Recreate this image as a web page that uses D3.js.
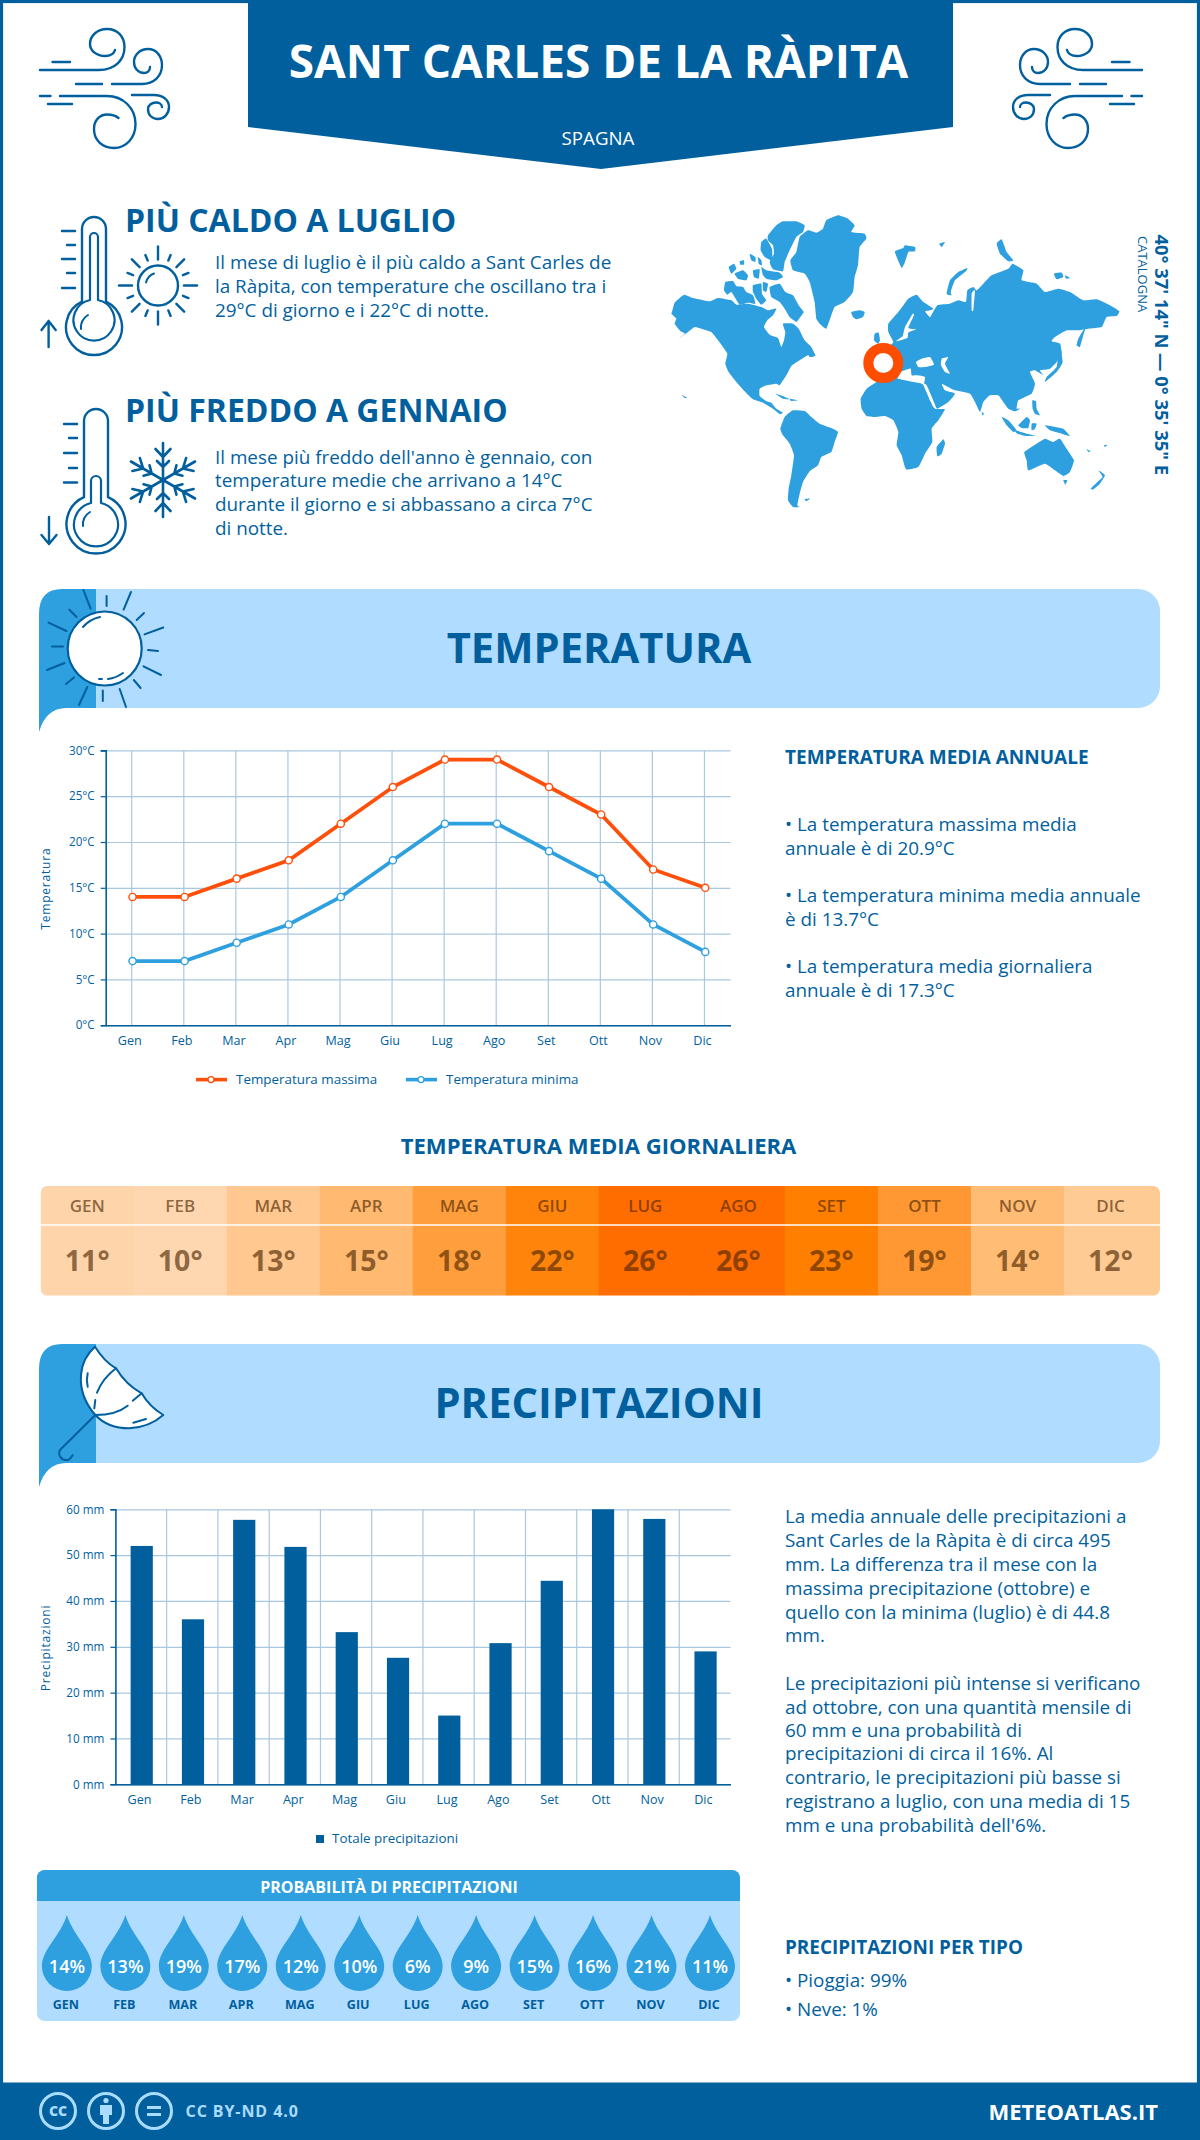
<!DOCTYPE html>
<html>
<head>
<meta charset="utf-8">
<script src="https://cdn.jsdelivr.net/npm/d3@7"></script>
<style>
  html, body { margin: 0; padding: 0; background: #fff; }
  svg { display: block; }
  text { font-family: 'Open Sans', sans-serif; }
</style>
</head>
<body>
<div id="chart"></div>
<script>
var months = ['Gen', 'Feb', 'Mar', 'Apr', 'Mag', 'Giu', 'Lug', 'Ago', 'Set', 'Ott', 'Nov', 'Dic'];
var tempMax = [14, 14, 16, 18, 22, 26, 29, 29, 26, 23, 17, 15];
var tempMin = [7, 7, 9, 11, 14, 18, 22, 22, 19, 16, 11, 8];
var tempMean = [11, 10, 13, 15, 18, 22, 26, 26, 23, 19, 14, 12];
var tempColors = ['#fed5ab', '#fed7b0', '#fec890', '#ffb970', '#ff9e3d', '#ff840c', '#ff6d00', '#ff6d00', '#ff7f00', '#ff9733', '#ffbc75', '#ffcb94'];
var rain = [52, 36, 57.7, 51.8, 33.2, 27.6, 15, 30.8, 44.4, 60, 57.9, 29];
var rainChance = [14, 13, 19, 17, 12, 10, 6, 9, 15, 16, 21, 11];
var tempTicks = [0, 5, 10, 15, 20, 25, 30];
var rainTicks = [0, 10, 20, 30, 40, 50, 60];

var BLUE = '#025f9e', MID = '#2e9fdf', LIGHT = '#b0dcff', ORANGE = '#fe4f0b', GRID = '#a9c8e0';

// land outlines traced by hand, in pixels of a 3x crop of each half of the map
var landWest = [
  [[12,300],[20,272],[48,248],[75,258],[125,268],[150,258],[190,265],[205,278],[240,275],[280,285],[300,295],[325,290],[315,310],[298,325],[288,345],[305,368],[330,378],[340,405],[348,385],[352,360],[345,335],[375,335],[392,350],[410,385],[430,405],[442,432],[420,430],[395,445],[370,462],[358,485],[345,505],[335,520],[325,515],[295,520],[275,530],[275,552],[295,568],[310,572],[325,590],[345,602],[335,606],[315,590],[285,572],[255,562],[232,540],[205,510],[182,480],[172,455],[178,425],[158,395],[130,360],[100,350],[80,345],[60,360],[22,388],[50,365],[38,358],[20,335],[25,320],[10,305]],
  [[305,225],[335,215],[352,240],[375,250],[392,280],[407,300],[395,318],[385,330],[365,315],[350,290],[335,270],[310,255]],
  [[172,210],[195,207],[205,222],[225,225],[235,240],[255,250],[262,275],[240,272],[215,278],[200,255],[190,240],[178,248],[168,235]],
  [[255,220],[280,215],[282,245],[295,265],[280,278],[265,260],[255,240]],
  [[285,210],[300,215],[295,240],[285,235]],
  [[200,185],[225,175],[240,190],[235,205],[210,200]],
  [[182,165],[198,155],[205,170],[190,185]],
  [[255,175],[275,172],[272,200],[258,195]],
  [[215,148],[228,145],[228,158],[217,158]],
  [[245,125],[262,135],[262,150],[250,145]],
  [[270,135],[280,145],[282,160],[272,155]],
  [[280,165],[295,175],[335,182],[345,195],[325,205],[295,200],[285,190]],
  [[300,70],[325,40],[345,28],[385,28],[410,40],[405,60],[385,75],[365,115],[350,150],[345,178],[315,172],[305,150],[318,125],[315,100],[300,85]],
  [[280,90],[295,80],[312,110],[312,145],[290,135],[278,115]],
  [[367,145],[385,120],[395,75],[420,55],[445,62],[465,50],[475,25],[510,10],[540,20],[560,40],[550,60],[590,65],[595,80],[575,105],[570,160],[560,195],[555,240],[530,270],[500,285],[490,310],[475,350],[460,340],[445,320],[440,270],[425,210],[410,185],[375,175]],
  [[550,300],[575,295],[590,300],[585,315],[565,322],[555,315]],
  [[420,420],[435,418],[442,432],[425,435]],
  [[322,545],[345,552],[365,562],[345,560]],
  [[365,560],[390,565],[370,567]],
  [[42,548],[58,558],[50,558]],
  [[337,650],[350,615],[375,595],[410,597],[430,615],[455,635],[490,648],[510,660],[500,690],[490,720],[460,735],[450,760],[425,778],[405,810],[395,845],[388,880],[395,885],[375,885],[360,865],[362,830],[370,790],[378,730],[365,695],[345,670]],
  [[410,862],[425,860],[415,868]],
  [[620,365],[632,362],[636,385],[630,395],[618,385]]
];
var landEast = [
  [[-58,560],[-40,530],[-10,510],[30,495],[75,505],[125,515],[135,525],[150,565],[168,590],[195,592],[175,625],[155,650],[157,690],[135,725],[115,765],[78,772],[65,730],[50,700],[55,660],[40,625],[15,612],[-15,615],[-40,612],[-55,590]],
  [[170,705],[190,682],[195,695],[185,725],[172,733]],
  [[-30,490],[-25,420],[10,410],[25,405],[40,390],[25,360],[25,335],[55,300],[85,260],[110,248],[130,270],[160,290],[140,300],[150,315],[172,280],[210,275],[235,265],[258,270],[262,235],[280,225],[290,235],[310,215],[335,190],[385,170],[398,155],[430,175],[425,205],[470,215],[495,240],[535,230],[570,240],[610,265],[650,262],[690,280],[718,298],[710,312],[680,315],[665,345],[625,350],[590,355],[560,355],[525,375],[515,388],[540,395],[545,425],[530,450],[510,470],[480,475],[490,490],[465,475],[450,480],[465,515],[455,545],[415,565],[410,590],[420,590],[405,598],[385,590],[370,570],[355,550],[330,550],[310,570],[300,600],[285,570],[270,545],[225,535],[205,525],[185,515],[195,535],[225,545],[205,570],[170,590],[150,555],[132,520],[135,495],[110,490],[95,490],[92,470],[75,475],[60,480],[50,500]],
  [[595,380],[620,340],[610,370],[600,405],[590,400]],
  [[540,395],[548,450],[530,480],[495,510],[500,495],[530,465],[535,420]],
  [[200,245],[210,205],[235,180],[262,168],[258,178],[225,205],[212,240],[215,250]],
  [[45,118],[70,108],[75,100],[105,105],[105,118],[85,120],[75,150],[65,168],[50,135]],
  [[178,95],[195,90],[185,105]],
  [[350,95],[365,82],[380,120],[400,145],[385,148],[360,125]],
  [[522,185],[545,182],[550,195],[530,202]],
  [[555,190],[570,198],[558,200]],
  [[305,600],[312,605],[307,610]],
  [[365,615],[385,625],[410,655],[400,660],[380,640]],
  [[405,655],[440,665],[470,672],[440,672],[412,665]],
  [[415,640],[440,615],[450,625],[445,648],[425,648]],
  [[455,635],[470,635],[465,650],[455,655]],
  [[457,565],[468,568],[470,590],[480,610],[465,605],[458,590]],
  [[495,640],[525,645],[550,650],[570,672],[545,665],[510,655]],
  [[433,720],[470,695],[495,680],[520,690],[540,680],[560,710],[582,745],[570,780],[550,792],[525,775],[495,755],[445,775],[440,745]],
  [[550,805],[562,805],[556,818]],
  [[632,830],[650,812],[668,795],[655,775],[675,790],[660,815],[640,832]],
  [[620,712],[632,718],[625,720]],
  [[672,700],[682,698],[675,705]]
];
var seasEast = [
  [[108,450],[125,440],[150,435],[162,458],[135,465],[115,465]],
  [[185,440],[205,435],[195,455],[210,485],[195,480],[183,460]],
  [[130,518],[140,520],[170,590],[160,585]],
  [[98,305],[75,345],[68,372],[48,388],[82,378],[85,362],[108,352],[85,348],[102,310]],
  [[135,298],[160,295],[150,315]],
  [[275,245],[285,235],[280,295],[275,295]]
];

var svg = d3.select('#chart').append('svg')
  .attr('width', 1200)
  .attr('height', 2140)
  .attr('viewBox', '0 0 1200 2140');

function label(parent, x, y, str, size, weight, color, anchor) {
  return parent.append('text')
    .attr('x', x)
    .attr('y', y)
    .attr('font-size', size)
    .attr('font-weight', weight)
    .attr('fill', color)
    .attr('text-anchor', anchor || 'start')
    .text(str);
}

function paragraph(lines, baselines, size, x) {
  lines.forEach(function(line, i) {
    label(svg, x, baselines[i], line, size, 400, BLUE);
  });
}

function strokes(parent, d, width, color) {
  return parent.append('path')
    .attr('d', d)
    .attr('fill', 'none')
    .attr('stroke', color || BLUE)
    .attr('stroke-width', width)
    .attr('stroke-linecap', 'round')
    .attr('stroke-linejoin', 'round');
}

// page frame and footer
svg.append('rect').attr('x', 1.5).attr('y', 1.5).attr('width', 1197).attr('height', 2137)
  .attr('fill', '#fff').attr('stroke', BLUE).attr('stroke-width', 3.2);
svg.append('rect').attr('x', 0).attr('y', 2082.5).attr('width', 1200).attr('height', 57.5).attr('fill', BLUE);

// title banner
svg.append('path').attr('d', 'M248,0H953V127L601,169L248,127Z').attr('fill', BLUE);
label(svg, 598.5, 78, 'SANT CARLES DE LA RÀPITA', 46, 700, '#fff', 'middle');
label(svg, 598, 145, 'SPAGNA', 18.7, 400, '#fff', 'middle');

// wind icons
function wind(g) {
  var d = 'M40,70H99C115,70 124.5,60 124.5,47C124.5,36 117,29 107,29C97,29 90,36 90,44C90,51 97,56 105,56C110,56 114,54 115,50' +
    'M52.5,62H70M112,84H142C154,84 162,76 162,65C162,56 156,49 148,49C140,49 134,55 134,62C134,68 138,73 144,73C147,73 150,71 150,67' +
    'M76,84H102M40,96H50.5M60,96H107C123,96 135.5,108 135.5,124C135.5,138 126,148 114,148C102,148 94,140 94,129C94,120 100,114.5 107,114.5C112,114.5 116,116 118.5,118' +
    'M48,104H72M132,95H154C163,95 169,100 169,107C169,114 164,119 158,119C152,119 148,115 148,109C148,105 152,102.5 156,102.5C159,102.5 162,104 162,107';
  strokes(g, d, 2.4);
}
wind(svg.append('g'));
wind(svg.append('g').attr('transform', 'translate(1182,0) scale(-1,1)'));

// thermometers
function thermometer(x, top, cy, r, ticksY, halfTube) {
  var g = svg.append('g');
  var a = Math.asin(halfTube / r);
  var join = cy - r * Math.cos(a);
  strokes(g, 'M' + (x - halfTube) + ',' + join + 'V' + (top + halfTube) + 'A' + halfTube + ',' + halfTube + ' 0 0 1 ' + (x + halfTube) + ',' + (top + halfTube) +
    'V' + join + 'A' + r + ',' + r + ' 0 1 1 ' + (x - halfTube) + ',' + join, 2.4);
  ticksY.forEach(function(y, i) {
    strokes(g, 'M' + (x - (i % 2 ? 27 : 32)) + ',' + y + 'H' + (x - 19), 2.4);
  });
  strokes(g, 'M' + (x - 13) + ',' + (cy + 2) + 'A15,15 0 0 1 ' + (x - 6) + ',' + (cy - 12), 2);
  return g;
}
var hot = thermometer(94, 217, 327, 28, [231, 245, 259, 273, 288], 12);
strokes(hot, 'M90,300V237A4,4 0 0 1 98,237V300A20.5,20.5 0 1 1 90,300', 2.2);
strokes(hot, 'M48.6,347V321M41.5,330L48.6,321L55.7,330', 2.4);

var cold = thermometer(96, 409, 524, 29.5, [424, 438, 453, 468, 482.5], 12);
strokes(cold, 'M91,503V481A5,5 0 0 1 101,481V503A22,22 0 1 1 91,503', 2.2);
strokes(cold, 'M49,517V543M41.5,535L49,544L56.5,535', 2.4);

// small sun
var smallSun = svg.append('g').attr('transform', 'translate(158,285.5)');
smallSun.append('circle').attr('r', 20).attr('fill', 'none').attr('stroke', BLUE).attr('stroke-width', 2.4);
strokes(smallSun, 'M-12,-3A13,13 0 0 1 -4,-12', 2);
d3.range(16).forEach(function(i) {
  var ang = i * Math.PI / 8, inner = 26, outer = i % 4 == 0 ? 39 : (i % 2 == 0 ? 37 : 33);
  if (i % 2) inner = 27;
  strokes(smallSun, 'M' + inner * Math.sin(ang) + ',' + (-inner * Math.cos(ang)) + 'L' + outer * Math.sin(ang) + ',' + (-outer * Math.cos(ang)), 2.4);
});

// snowflake
var flake = svg.append('g').attr('transform', 'translate(163,480)');
d3.range(6).forEach(function(i) {
  var arm = flake.append('g').attr('transform', 'rotate(' + i * 60 + ')');
  strokes(arm, 'M0,0V-37M-7.5,-31L0,-23L7.5,-31M-6,-19L0,-13L6,-19', 2.6);
});

// headings and top texts
label(svg, 125, 231.5, 'PIÙ CALDO A LUGLIO', 32, 700, BLUE);
label(svg, 125, 422, 'PIÙ FREDDO A GENNAIO', 32, 700, BLUE);
paragraph(['Il mese di luglio è il più caldo a Sant Carles de', 'la Ràpita, con temperature che oscillano tra i', '29°C di giorno e i 22°C di notte.'],
  [269, 292.5, 316.5], 18.85, 215);
paragraph(['Il mese più freddo dell\'anno è gennaio, con', 'temperature medie che arrivano a 14°C', 'durante il giorno e si abbassano a circa 7°C', 'di notte.'],
  [463.5, 487, 511, 534.5], 18.85, 215);

// world map
var mapLine = d3.line().curve(d3.curveCardinalClosed.tension(0.6));
var mapWest = svg.append('g').attr('transform', 'translate(668,212) scale(0.3333)');
var mapEast = svg.append('g').attr('transform', 'translate(880,212) scale(0.3333)');
mapWest.selectAll('path').data(landWest).join('path')
  .attr('d', mapLine)
  .attr('fill', MID);
mapEast.selectAll('path.land').data(landEast).join('path')
  .attr('class', 'land')
  .attr('d', mapLine)
  .attr('fill', MID);
mapEast.selectAll('path.sea').data(seasEast).join('path')
  .attr('class', 'sea')
  .attr('d', mapLine)
  .attr('fill', '#fff');
svg.append('circle').attr('cx', 883.3).attr('cy', 363).attr('r', 15)
  .attr('fill', '#fff').attr('stroke', '#ff4d00').attr('stroke-width', 10);

svg.append('text')
  .attr('transform', 'translate(1155,234.5) rotate(90)')
  .attr('font-size', 18.4).attr('font-weight', 700).attr('fill', BLUE)
  .text('40° 37\' 14" N — 0° 35\' 35" E');
svg.append('text')
  .attr('transform', 'translate(1138,236) rotate(90)')
  .attr('font-size', 13).attr('fill', BLUE)
  .text('CATALOGNA');

// section banners
function banner(top, bottom, title, baseline) {
  svg.append('path')
    .attr('d', 'M96,' + top + 'H1138A22,22 0 0 1 1160,' + (top + 22) + 'V' + (bottom - 22) + 'A22,22 0 0 1 1138,' + bottom + 'H96Z')
    .attr('fill', LIGHT);
  svg.append('path')
    .attr('d', 'M96,' + top + 'H62Q39,' + top + ' 39,' + (top + 25) + 'V' + (bottom + 24) + 'Q46,' + bottom + ' 66,' + bottom + 'H96Z')
    .attr('fill', MID);
  label(svg, 599, baseline, title, 41.7, 700, BLUE, 'middle');
}
banner(589, 708, 'TEMPERATURA', 663);
banner(1344, 1463, 'PRECIPITAZIONI', 1418);

// banner sun
var bigSun = svg.append('g');
bigSun.append('circle').attr('cx', 104.7).attr('cy', 648.5).attr('r', 37)
  .attr('fill', '#fff').attr('stroke', BLUE).attr('stroke-width', 2.2);
strokes(bigSun, 'M83.4,590L90.6,608.6M106.6,596V606M131,592L123.6,609.6M144,613L136.7,620M163.3,627.5L144.5,634.4M148,650L158,651' +
  'M161,675L143.5,666.4M140.6,688L133.8,680M126,707L119.7,689M102.8,690.5V701M79,705L87.3,687M74,677.4L66,684M47,670L64.5,663' +
  'M52,646.4H63M48.5,622.7L66.4,631M69.3,609.6L76.6,617', 2);
strokes(bigSun, 'M83,627Q90,619 100,617M108,679Q116,678 123,673M99,679H102', 2);

// banner umbrella
var umbrella = svg.append('g');
umbrella.append('path')
  .attr('d', 'M95,1346.7Q104.3,1361.7 116,1368.3Q126,1385 141.7,1393.3Q149.3,1406.7 163.3,1415Q149.3,1427.3 129.3,1428.3Q107.7,1428.3 95.3,1415Q79.3,1396.7 81,1375Q82,1358.3 95,1346.7Z')
  .attr('fill', '#fff').attr('stroke', BLUE).attr('stroke-width', 2).attr('stroke-linejoin', 'round');
strokes(umbrella, 'M116,1368.3Q102.7,1378.3 97,1392.7M95.3,1400L94.3,1408.3M95.3,1415Q116,1415 127.7,1405.7M132.7,1400.7L141.7,1393.3' +
  'M87.7,1373.3Q86,1380 87.7,1386.7M133.3,1422.7L146,1419', 2);
strokes(umbrella, 'M95.3,1415L60,1450C57.7,1455 61,1460.7 67.7,1460C70,1459.5 71.5,1457 72.7,1455', 2);

// shared axis styling
function styleAxis(g, size) {
  g.selectAll('text').attr('font-size', size).attr('fill', BLUE);
  g.selectAll('line').attr('stroke', BLUE).attr('stroke-width', 1.2);
  g.select('.domain').attr('stroke', BLUE).attr('stroke-width', 1.6);
}

function yTitle(str, cy, spacing) {
  svg.append('text')
    .attr('transform', 'translate(50,' + cy + ') rotate(-90)')
    .attr('text-anchor', 'middle')
    .attr('font-size', 12)
    .attr('letter-spacing', spacing)
    .attr('fill', BLUE)
    .text(str);
}

// temperature chart
var tx = d3.scaleBand().domain(months).range([105.7, 730.5]);
var ty = d3.scaleLinear().domain([0, 30]).range([1025.2, 750.4]);
var tChart = svg.append('g');

tChart.append('g')
  .attr('transform', 'translate(105.7,0)')
  .call(d3.axisLeft(ty).tickValues(tempTicks).tickSize(-624.8).tickFormat(''))
  .call(function(g) {
    g.select('.domain').remove();
    g.selectAll('line').attr('stroke', GRID).attr('stroke-width', 1.2);
  });
tChart.append('g')
  .attr('transform', 'translate(0,1025.2)')
  .call(d3.axisBottom(tx).tickSize(-274.8).tickFormat(''))
  .call(function(g) {
    g.select('.domain').remove();
    g.selectAll('line').attr('stroke', GRID).attr('stroke-width', 1.2);
  });

var tempLine = d3.line()
  .x(function(d, i) { return tx(months[i]) + tx.bandwidth() / 2 + 0.8; })
  .y(function(d) { return ty(d); });

[{ values: tempMax, color: ORANGE }, { values: tempMin, color: MID }].forEach(function(s) {
  tChart.append('path')
    .attr('d', tempLine(s.values))
    .attr('fill', 'none')
    .attr('stroke', s.color)
    .attr('stroke-width', 3.8);
  tChart.selectAll(null).data(s.values).join('circle')
    .attr('cx', function(d, i) { return tx(months[i]) + tx.bandwidth() / 2 + 0.8; })
    .attr('cy', function(d) { return ty(d); })
    .attr('r', 3.6)
    .attr('fill', '#fff')
    .attr('stroke', s.color)
    .attr('stroke-width', 1.4);
});

tChart.append('g')
  .attr('transform', 'translate(105.7,0)')
  .call(d3.axisLeft(ty).tickValues(tempTicks).tickSize(5).tickPadding(6).tickFormat(function(d) { return d + '°C'; }))
  .call(styleAxis, 11.7);
tChart.append('g')
  .attr('transform', 'translate(0,1025.2)')
  .call(d3.axisBottom(tx).tickSize(0).tickPadding(11))
  .call(styleAxis, 12.6)
  .call(function(g) { g.selectAll('text').attr('dx', -2); });
yTitle('Temperatura', 888.6, 0.8);

// temperature legend
[{ x: 196, name: 'Temperatura massima', color: ORANGE }, { x: 406, name: 'Temperatura minima', color: MID }].forEach(function(s) {
  tChart.append('line').attr('x1', s.x).attr('x2', s.x + 31).attr('y1', 1079.6).attr('y2', 1079.6)
    .attr('stroke', s.color).attr('stroke-width', 3.6);
  tChart.append('circle').attr('cx', s.x + 15).attr('cy', 1079.6).attr('r', 3)
    .attr('fill', '#fff').attr('stroke', s.color).attr('stroke-width', 1.3);
  label(tChart, s.x + 40, 1084, s.name, 13.4, 400, BLUE);
});

// annual temperature notes
label(svg, 785, 764, 'TEMPERATURA MEDIA ANNUALE', 19, 700, BLUE);
paragraph(['• La temperatura massima media', 'annuale è di 20.9°C', '• La temperatura minima media annuale', 'è di 13.7°C', '• La temperatura media giornaliera', 'annuale è di 17.3°C'],
  [831, 854.5, 901.7, 925.7, 972.7, 996.7], 18.85, 785);

// daily mean strip
label(svg, 598.5, 1154, 'TEMPERATURA MEDIA GIORNALIERA', 22.1, 700, BLUE, 'middle');
var hx = d3.scaleBand().domain(months).range([40.7, 1157]);
svg.append('clipPath').attr('id', 'stripClip').append('rect')
  .attr('x', 40.5).attr('y', 1186).attr('width', 1119.5).attr('height', 109.7).attr('rx', 7);
var strip = svg.append('g').attr('clip-path', 'url(#stripClip)');
strip.selectAll('rect').data(months).join('rect')
  .attr('x', function(d) { return hx(d); })
  .attr('y', 1186)
  .attr('width', function(d, i) { return hx.bandwidth() + (i == 11 ? 3.5 : 0.5); })
  .attr('height', 109.7)
  .attr('fill', function(d, i) { return tempColors[i]; });
strip.append('line').attr('x1', 40).attr('x2', 1160).attr('y1', 1225).attr('y2', 1225)
  .attr('stroke', '#fff').attr('stroke-width', 1.6);
months.forEach(function(m, i) {
  var cx = hx(m) + hx.bandwidth() / 2;
  label(strip, cx, 1211.7, m.toUpperCase(), 17, 600, '#4d2600', 'middle').attr('fill-opacity', 0.65);
  label(strip, cx, 1270.7, tempMean[i] + '°', 28.5, 700, '#4d2600', 'middle').attr('fill-opacity', 0.65);
});

// precipitation chart
var rx = d3.scaleBand().domain(months).range([115.4, 730.5]);
var ry = d3.scaleLinear().domain([0, 60]).range([1784.3, 1509.3]);
var rChart = svg.append('g');

rChart.append('g')
  .attr('transform', 'translate(115.4,0)')
  .call(d3.axisLeft(ry).tickValues(rainTicks).tickSize(-615.1).tickFormat(''))
  .call(function(g) {
    g.select('.domain').remove();
    g.selectAll('line').attr('stroke', GRID).attr('stroke-width', 1.2);
  });
rChart.selectAll('line.month').data(months.slice(1)).join('line')
  .attr('class', 'month')
  .attr('x1', function(d) { return rx(d); })
  .attr('x2', function(d) { return rx(d); })
  .attr('y1', ry(60))
  .attr('y2', ry(0))
  .attr('stroke', GRID)
  .attr('stroke-width', 1.2);
rChart.selectAll('rect').data(rain).join('rect')
  .attr('x', function(d, i) { return rx(months[i]) + rx.bandwidth() / 2 - 10.4; })
  .attr('y', function(d) { return ry(d); })
  .attr('width', 22.2)
  .attr('height', function(d) { return ry(0) - ry(d); })
  .attr('fill', BLUE);
rChart.append('g')
  .attr('transform', 'translate(115.4,0)')
  .call(d3.axisLeft(ry).tickValues(rainTicks).tickSize(5).tickPadding(6).tickFormat(function(d) { return d + ' mm'; }))
  .call(styleAxis, 11.7);
rChart.append('g')
  .attr('transform', 'translate(0,1784.3)')
  .call(d3.axisBottom(rx).tickSize(0).tickPadding(11))
  .call(styleAxis, 12.6)
  .call(function(g) { g.selectAll('text').attr('dx', -1.5); });
yTitle('Precipitazioni', 1648, 0.8);

rChart.append('rect').attr('x', 316).attr('y', 1835).attr('width', 8).attr('height', 8).attr('fill', BLUE);
label(rChart, 332, 1843, 'Totale precipitazioni', 13.4, 400, BLUE);

// precipitation notes
paragraph(['La media annuale delle precipitazioni a', 'Sant Carles de la Ràpita è di circa 495', 'mm. La differenza tra il mese con la', 'massima precipitazione (ottobre) e', 'quello con la minima (luglio) è di 44.8', 'mm.'],
  [1523, 1546.5, 1570.5, 1594.5, 1618.5, 1642], 18.85, 785);
paragraph(['Le precipitazioni più intense si verificano', 'ad ottobre, con una quantità mensile di', '60 mm e una probabilità di', 'precipitazioni di circa il 16%. Al', 'contrario, le precipitazioni più basse si', 'registrano a luglio, con una media di 15', 'mm e una probabilità dell\'6%.'],
  [1689.6, 1713.6, 1736.5, 1760, 1784, 1808, 1831.5], 18.85, 785);
label(svg, 785, 1954, 'PRECIPITAZIONI PER TIPO', 18.9, 700, BLUE);
paragraph(['• Pioggia: 99%', '• Neve: 1%'], [1987, 2016], 18.85, 785);

// chance of rain panel
svg.append('clipPath').attr('id', 'panelClip').append('rect')
  .attr('x', 36.8).attr('y', 1870).attr('width', 703.2).attr('height', 151).attr('rx', 8);
var panel = svg.append('g').attr('clip-path', 'url(#panelClip)');
panel.append('rect').attr('x', 36.8).attr('y', 1870).attr('width', 703.2).attr('height', 151).attr('fill', LIGHT);
panel.append('rect').attr('x', 36.8).attr('y', 1870).attr('width', 703.2).attr('height', 31).attr('fill', MID);
label(svg, 389, 1893, 'PROBABILITÀ DI PRECIPITAZIONI', 16, 700, '#fff', 'middle');

var dx = d3.scalePoint().domain(months).range([66.9, 710]);
var drops = panel.selectAll('g.drop').data(rainChance).join('g')
  .attr('class', 'drop')
  .attr('transform', function(d, i) { return 'translate(' + dx(months[i]) + ',1915)'; });
drops.append('path')
  .attr('d', 'M0,0C6,20 25,35 25,51A25,25 0 1 1 -25,51C-25,35 -6,20 0,0Z')
  .attr('fill', MID);
drops.append('text')
  .attr('y', 58)
  .attr('text-anchor', 'middle')
  .attr('font-size', 18)
  .attr('font-weight', 600)
  .attr('fill', '#fff')
  .text(function(d) { return d + '%'; });
drops.append('text')
  .attr('x', -1)
  .attr('y', 94)
  .attr('text-anchor', 'middle')
  .attr('font-size', 12.6)
  .attr('font-weight', 700)
  .attr('fill', BLUE)
  .text(function(d, i) { return months[i].toUpperCase(); });

// footer badges
var PALE = '#a9dcff';
[58, 106, 154].forEach(function(x) {
  svg.append('circle').attr('cx', x).attr('cy', 2111).attr('r', 17.5)
    .attr('fill', 'none').attr('stroke', PALE).attr('stroke-width', 3);
});
label(svg, 58, 2116, 'CC', 14, 800, PALE, 'middle');
svg.append('circle').attr('cx', 106).attr('cy', 2100.5).attr('r', 2.6).attr('fill', PALE);
svg.append('path').attr('d', 'M100,2105H112V2115H109V2124H103V2115H100Z').attr('fill', PALE);
svg.append('rect').attr('x', 147).attr('y', 2106).attr('width', 14).attr('height', 3).attr('fill', PALE);
svg.append('rect').attr('x', 147).attr('y', 2113).attr('width', 14).attr('height', 3).attr('fill', PALE);
label(svg, 185.6, 2117, 'CC BY-ND 4.0', 16, 700, PALE).attr('letter-spacing', 0.9);
label(svg, 1158, 2120, 'METEOATLAS.IT', 22, 700, '#fff', 'end');
</script>
</body>
</html>
